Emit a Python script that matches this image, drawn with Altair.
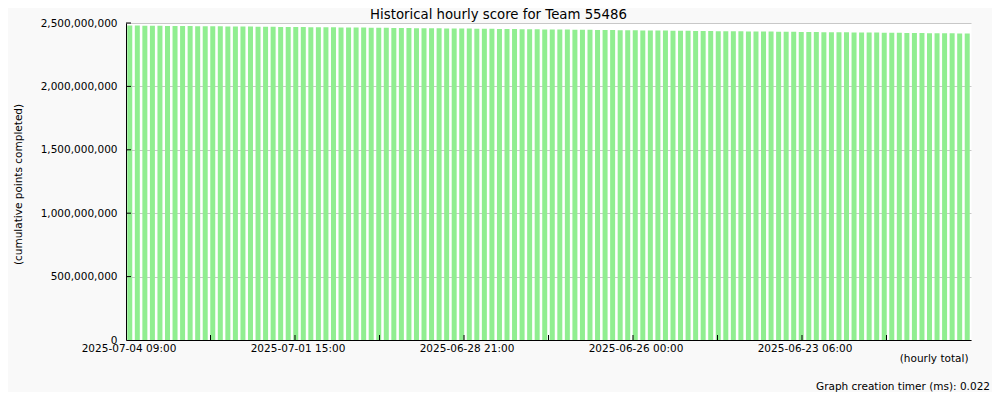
import json
import altair as alt
import pandas as pd

# ---- data ----
TITLE = "Historical hourly score for Team 55486"
Y_TITLE = "(cumulative points completed)"
X_TITLE = "(hourly total)"
FOOTER = "Graph creation timer (ms): 0.022"

# 112 three-hourly samples, newest (left) to oldest (right), in millions of points
SCORES_M = [
    2480.0, 2479.5, 2478.9, 2478.4, 2477.9, 2477.3, 2476.8, 2476.3, 2475.7, 2475.2,
    2474.7, 2474.1, 2473.6, 2473.1, 2472.6,
    2472.1, 2471.6, 2471.0, 2470.5, 2470.0, 2469.4, 2468.9, 2468.4, 2467.8, 2467.3,
    2466.8, 2466.2, 2465.7, 2465.2, 2464.7,
    2464.2, 2463.6, 2463.0, 2462.4, 2461.8, 2461.2, 2460.6, 2460.0, 2459.4, 2458.8,
    2458.3, 2457.7, 2457.2, 2456.8,
    2456.3, 2455.7, 2455.0, 2454.4, 2453.7, 2453.1, 2452.5, 2451.9, 2451.2, 2450.6,
    2450.0, 2449.4, 2448.9,
    2448.4, 2447.8, 2447.1, 2446.5, 2445.9, 2445.3, 2444.7, 2444.1, 2443.4, 2442.8,
    2442.2, 2441.6, 2441.1,
    2440.6, 2440.0, 2439.4, 2438.8, 2438.2, 2437.6, 2437.0, 2436.5, 2435.9, 2435.3,
    2434.7, 2434.2, 2433.7, 2433.2,
    2432.7, 2432.1, 2431.5, 2430.9, 2430.4, 2429.8, 2429.2, 2428.6, 2428.0, 2427.4,
    2426.9, 2426.3, 2425.8, 2425.3,
    2424.8, 2424.2, 2423.6, 2423.0, 2422.5, 2421.9, 2421.3, 2420.7, 2420.1, 2419.6,
    2419.0, 2418.5, 2418.0, 2417.5,
]
BAR_INDEX = list(range(len(SCORES_M)))

Y_TICKS = [0, 500_000_000, 1_000_000_000, 1_500_000_000, 2_000_000_000, 2_500_000_000]
X_TICK_POS = [-0.5, 10.7, 21.9, 33.1, 44.3, 55.5, 66.7, 77.9, 89.1, 100.3]
X_TICK_LABELS = ["2025-07-04 09:00", "", "2025-07-01 15:00", "", "2025-06-28 21:00", "",
                 "2025-06-26 00:00", "", "2025-06-23 06:00", ""]

# ---- tables ----
bars_df = pd.DataFrame({"i": BAR_INDEX, "score": [v * 1_000_000 for v in SCORES_M]})
xtick_df = pd.DataFrame({"i": X_TICK_POS[1:]})
ytick_df = pd.DataFrame({"score": Y_TICKS[1:]})
title_df = pd.DataFrame({"t": [TITLE]})
footer_df = pd.DataFrame({"t": [FOOTER]})

FONT = "DejaVu Sans"
W, H = 845, 317

xscale = alt.Scale(domain=[-0.5, 111.5], nice=False, zero=False, padding=0)
yscale = alt.Scale(domain=[0, 2_500_000_000], nice=False)

label_expr = json.dumps(X_TICK_LABELS) + "[round((datum.value + 0.5) / 11.2)]"

xaxis = alt.Axis(
    values=X_TICK_POS, labelExpr=label_expr, ticks=False, tickSize=0, grid=False,
    labelFont=FONT, labelFontSize=10.5, labelColor="black", labelPadding=3,
    labelOffset=2.5, labelAngle=0, labelFlush=False, labelOverlap=False,
    domainColor="black", domainWidth=1,
    title=X_TITLE, titleFont=FONT, titleFontSize=10.5, titleFontWeight="normal",
    titleColor="black", titleX=842, titleY=21.5, titleAlign="right",
    titleBaseline="alphabetic", titleAngle=0,
)
yaxis = alt.Axis(
    values=Y_TICKS, format=",d", ticks=False, tickSize=0,
    grid=True, gridColor="#c8c8c8", gridWidth=1,
    labelFont=FONT, labelFontSize=10.5, labelColor="black", labelPadding=9,
    labelBaseline="middle", labelFlush=False, labelOverlap=False,
    domainColor="black", domainWidth=1,
    title=Y_TITLE, titleFont=FONT, titleFontSize=10.5, titleFontWeight="normal",
    titleColor="black", titleX=-104.5, titleY=161, titleAngle=-90, titleAlign="center",
    titleBaseline="alphabetic",
)

bars = alt.Chart(bars_df).mark_bar(size=5, color="#90ee90").encode(
    x=alt.X("i:Q", scale=xscale, axis=xaxis),
    y=alt.Y("score:Q", scale=yscale, axis=yaxis),
)

xticks = alt.Chart(xtick_df).mark_rule(color="black", strokeWidth=1).encode(
    x=alt.X("i:Q", scale=xscale, axis=xaxis),
    y=alt.value(H - 5),
    y2=alt.value(H),
)

yticks = alt.Chart(ytick_df).mark_rule(color="black", strokeWidth=1).encode(
    y=alt.Y("score:Q", scale=yscale, axis=yaxis),
    x=alt.value(0),
    x2=alt.value(5),
)

title = alt.Chart(title_df).mark_text(
    align="center", baseline="alphabetic", font=FONT, fontSize=13.3, color="black"
).encode(text="t:N", x=alt.value(372.5), y=alt.value(-4.5))

footer = alt.Chart(footer_df).mark_text(
    align="right", baseline="alphabetic", font=FONT, fontSize=10.5, color="black"
).encode(text="t:N", x=alt.value(864), y=alt.value(366.5))

chart = alt.layer(bars, xticks, yticks, title, footer).properties(
    width=W,
    height=H,
    autosize=alt.AutoSizeParams(type="none"),
    padding={"left": 118, "top": 15, "right": 21, "bottom": 52},
    background="#f9f9f9",
).configure_view(fill="white", stroke="transparent")

chart.save("out.html", embed_options={"renderer": "svg", "actions": False})
